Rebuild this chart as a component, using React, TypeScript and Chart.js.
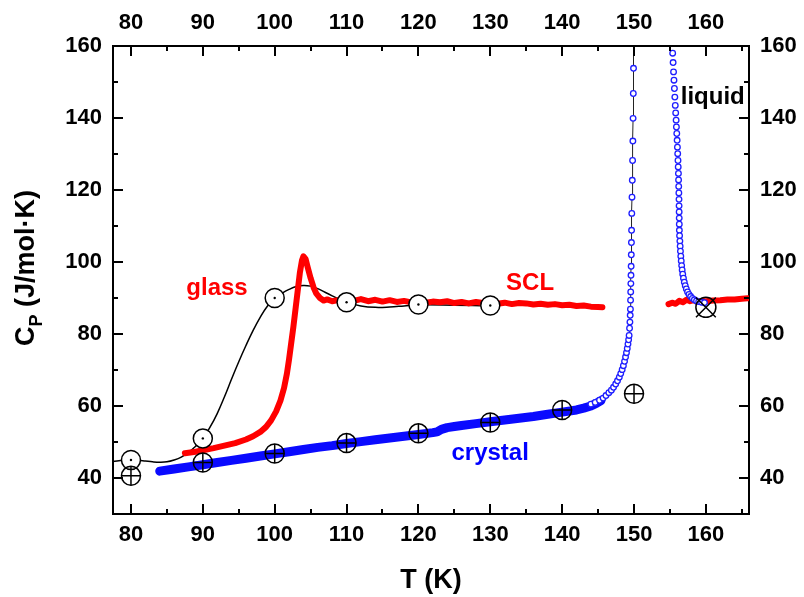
import React, { useEffect, useRef } from 'react';
import { Chart, registerables } from 'chart.js';

Chart.register(...registerables);

const FONT = '"Liberation Sans", Arial, sans-serif';

// axis ticks
const xTickValues = [80, 90, 100, 110, 120, 130, 140, 150, 160];
const xMinorValues = [85, 95, 105, 115, 125, 135, 145, 155, 165];
const yTickValues = [40, 60, 80, 100, 120, 140, 160];
const yMinorValues = [50, 70, 90, 110, 130, 150];
const X_MIN = 77.5;
const X_MAX = 166;
const Y_MIN = 30;
const Y_MAX = 160;

// glass -> SCL (red)
const glassT = [87.5, 89, 90, 91.5, 93, 94.5, 96, 97, 98, 98.8, 99.5, 100.2, 100.8, 101.3, 101.7, 102.0, 102.3, 102.6, 102.9, 103.2, 103.5, 103.8, 104.0, 104.3, 104.6, 105.0, 105.4, 105.8, 106.3, 106.8, 107.3, 108, 108.8, 109.5, 110.2, 111, 112, 113, 114, 115, 116, 117, 118, 119, 120, 121, 122, 123, 124, 125, 126, 127, 128, 129, 130, 131, 132, 133, 134, 135, 136, 137, 138, 139, 140, 141, 142, 143, 144, 145, 145.6];
const glassC = [46.9, 47.3, 47.7, 48.3, 49.0, 49.7, 50.7, 51.6, 52.8, 54.2, 56.0, 58.5, 61.5, 65, 69, 73, 77.5, 82, 87, 92, 97, 100.5, 101.6, 100.8, 98.5, 95.5, 93, 91.2, 90, 89.3, 89.6, 89.1, 89.4, 88.9, 89.5, 89.2, 89.7, 89.1, 89.5, 89.0, 89.4, 88.9, 89.2, 88.8, 89.1, 88.7, 89.0, 88.8, 89.1, 88.6, 88.9, 88.5, 88.9, 88.6, 88.8, 88.4, 88.7, 88.3, 88.6, 88.5, 88.2, 88.4, 88.1, 88.3, 88.0, 88.1, 87.8, 87.9, 87.6, 87.5, 87.4];

// liquid (red, above melting)
const liqRedT = [154.8, 155.3, 155.8, 156.3, 156.8, 157.3, 157.8, 158.3, 158.8, 159.3, 160, 161, 162, 163, 164, 165, 165.8];
const liqRedC = [88.3, 88.7, 88.4, 89.2, 88.8, 89.5, 89.1, 89.4, 88.9, 89.2, 89.1, 89.3, 89.4, 89.6, 89.6, 89.8, 89.9];

// crystal (blue, dense band)
const crystalT = [84, 86, 88, 90, 92, 94, 96, 98, 100, 102, 104, 106, 108, 110, 112, 114, 116, 118, 120, 122, 122.6, 123.2, 124, 125, 126, 128, 130, 132, 134, 136, 138, 140, 142, 143, 144, 144.8, 145.4];
const crystalC = [41.9, 42.5, 43.1, 43.7, 44.3, 44.9, 45.5, 46.1, 46.7, 47.3, 47.9, 48.5, 49.0, 49.6, 50.1, 50.6, 51.1, 51.6, 52.1, 52.6, 52.8, 53.5, 54.0, 54.3, 54.6, 55.1, 55.6, 56.1, 56.6, 57.1, 57.7, 58.3, 58.9, 59.4, 60.0, 60.8, 61.5];

// crystal upturn and melting spike (blue open circles)
const spikeT = [144.0, 144.6, 145.2, 145.7, 146.1, 146.5, 146.85, 147.15, 147.45, 147.7, 147.95, 148.15, 148.35, 148.52, 148.68, 148.82, 148.95, 149.06, 149.16, 149.25, 149.32, 149.38, 149.43, 149.47, 149.5, 149.52, 149.54, 149.56, 149.58, 149.6, 149.62, 149.64, 149.66, 149.69, 149.72, 149.76, 149.8, 149.84, 149.87, 149.9, 149.93, 149.96];
const spikeC = [60.5, 61.0, 61.6, 62.2, 62.9, 63.7, 64.4, 65.2, 66.1, 67.0, 68.0, 69.0, 70.1, 71.2, 72.4, 73.6, 74.8, 76.0, 77.2, 78.4, 79.6, 81.6, 83.3, 85.2, 86.9, 89.4, 91.7, 94.0, 96.3, 98.8, 102.0, 105.4, 108.8, 113.5, 118.0, 122.7, 128.2, 133.6, 139.9, 146.8, 153.8, 161];

// liquid branch (blue open circles)
const liquidT = [155.3, 155.38, 155.44, 155.5, 155.56, 155.62, 155.68, 155.74, 155.8, 155.86, 155.9, 155.95, 156.0, 156.04, 156.08, 156.12, 156.15, 156.18, 156.2, 156.22, 156.24, 156.26, 156.27, 156.28, 156.29, 156.3, 156.31, 156.34, 156.38, 156.42, 156.46, 156.51, 156.57, 156.63, 156.7, 156.78, 156.88, 157.0, 157.13, 157.28, 157.45, 157.65, 157.88, 158.12, 158.4, 158.7, 159.0, 159.4, 159.8];
const liquidC = [161.5, 158, 155.4, 152.8, 150.5, 148.2, 145.8, 143.5, 141.4, 139.4, 137.5, 135.7, 133.8, 131.9, 130.1, 128.2, 126.4, 124.6, 122.8, 121, 119.2, 117.4, 115.6, 113.9, 112.2, 110.5, 108.8, 107.3, 105.8, 104.4, 103, 101.6, 100.3, 99, 97.8, 96.6, 95.5, 94.4, 93.4, 92.5, 91.7, 91.0, 90.4, 89.9, 89.5, 89.2, 89.0, 88.8, 88.7];

// smooth black guide curve
const fitT = [77.5, 79, 80, 81, 82, 83, 84, 85, 86, 87, 88, 89, 90, 91, 92, 93, 94, 95, 96, 97, 98, 99, 100, 101, 102, 103, 104, 105, 106, 107, 108, 109, 110, 112, 114, 116, 118, 120, 125, 130];
const fitC = [44.6, 44.9, 45.0, 44.9, 44.7, 44.5, 44.4, 44.5, 45.0, 45.8, 47.1, 48.8, 51.0, 54.1, 57.9, 62.5, 67.5, 72.3, 76.8, 81.0, 84.7, 87.8, 89.9, 91.3, 92.4, 93.2, 93.5, 93.3, 92.6, 91.6, 90.6, 89.6, 88.8, 87.8, 87.4, 87.5, 87.8, 88.1, 88.0, 87.8];

// reference markers
const dotT = [80, 90, 100, 110, 120, 130];
const dotC = [45.0, 51.0, 90.0, 88.8, 88.2, 87.9];
const plusT = [80, 90, 100, 110, 120, 130, 140, 150];
const plusC = [40.6, 44.3, 46.8, 49.7, 52.4, 55.4, 58.9, 63.4];
const crossT = [160];
const crossC = [87.4];

const pts = (t: number[], c: number[]) => t.map((v, i) => ({ x: v, y: c[i] }));

const annotations = [
  { text: 'glass', t: 87.7, c: 90.8, color: '#ff0000' },
  { text: 'SCL', t: 132.2, c: 92.2, color: '#ff0000' },
  { text: 'crystal', t: 124.6, c: 44.9, color: '#0000ff' },
  { text: 'liquid', t: 156.5, c: 144, color: '#000000' },
];

const decor = {
  id: 'decor',
  afterDatasetsDraw(chart: any) {
    const { ctx, scales } = chart;
    const x = scales.x, y = scales.y;
    ctx.save();
    ctx.font = `bold 24px ${FONT}`;
    ctx.textAlign = 'left';
    ctx.textBaseline = 'alphabetic';
    for (const a of annotations) {
      ctx.fillStyle = a.color;
      ctx.fillText(a.text, x.getPixelForValue(a.t), y.getPixelForValue(a.c));
    }
    ctx.restore();
  },
  afterDraw(chart: any) {
    const { ctx, chartArea: a, scales } = chart;
    const x = scales.x, y = scales.y;
    ctx.save();
    ctx.strokeStyle = '#000';
    ctx.lineWidth = 2;
    const seg = (x1: number, y1: number, x2: number, y2: number) => {
      ctx.beginPath(); ctx.moveTo(x1, y1); ctx.lineTo(x2, y2); ctx.stroke();
    };
    const xs = [...xTickValues.map(v => [v, 10]), ...xMinorValues.map(v => [v, 5])];
    for (const [v, L] of xs) {
      const px = Math.round(x.getPixelForValue(v));
      seg(px, a.bottom, px, a.bottom - L);
      seg(px, a.top, px, a.top + L);
    }
    const ys = [...yTickValues.map(v => [v, 10]), ...yMinorValues.map(v => [v, 5])];
    for (const [v, L] of ys) {
      const py = Math.round(y.getPixelForValue(v));
      seg(a.left, py, a.left + L, py);
      seg(a.right, py, a.right - L, py);
    }
    // axis titles
    ctx.fillStyle = '#000';
    ctx.font = `bold 27px ${FONT}`;
    ctx.textAlign = 'center';
    ctx.textBaseline = 'alphabetic';
    ctx.fillText('T (K)', (a.left + a.right) / 2, 588);

    ctx.translate(34, 268);
    ctx.rotate(-Math.PI / 2);
    ctx.textAlign = 'left';
    const big = `bold 27px ${FONT}`;
    const small = `bold 18px ${FONT}`;
    ctx.font = big;
    const wC = ctx.measureText('C').width;
    const rest = ' (J/mol·K)';
    const wR = ctx.measureText(rest).width;
    ctx.font = small;
    const wP = ctx.measureText('P').width;
    const total = wC + wP + wR;
    let cx = -total / 2;
    ctx.font = big;
    ctx.fillText('C', cx, 0);
    cx += wC;
    ctx.font = small;
    ctx.fillText('P', cx, 8);
    cx += wP;
    ctx.font = big;
    ctx.fillText(rest, cx, 0);
    ctx.restore();
  },
};

const tickFont = { family: FONT, size: 22, weight: 'bold' as const };

function axis(position: string, isX: boolean, pad: number, size: number) {
  return {
    type: 'linear',
    position,
    min: isX ? X_MIN : Y_MIN,
    max: isX ? X_MAX : Y_MAX,
    grid: { display: false, drawTicks: false },
    border: { display: true, color: '#000', width: 2 },
    ticks: { font: tickFont, color: '#000', padding: pad, maxRotation: 0, autoSkip: false },
    afterBuildTicks: (s: any) => {
      s.ticks = (isX ? xTickValues : yTickValues).map(v => ({ value: v }));
    },
    afterFit: (s: any) => {
      if (isX) s.height = size; else s.width = size;
    },
  };
}

export default function App() {
  const ref = useRef<HTMLCanvasElement>(null);
  useEffect(() => {
    const canvas = ref.current!;
    const chart = new Chart(canvas, {
      type: 'scatter',
      data: {
        datasets: [
          { label: 'cross-x', data: pts(crossT, crossC), pointStyle: 'crossRot', pointRadius: 14, pointBorderColor: '#000', pointBorderWidth: 1.5, showLine: false, order: 1 } as any,
          { label: 'cross-o', data: pts(crossT, crossC), pointStyle: 'circle', pointRadius: 10, pointBorderColor: '#000', pointBackgroundColor: 'rgba(0,0,0,0)', pointBorderWidth: 1.5, showLine: false, order: 2 },
          { label: 'plus-x', data: pts(plusT, plusC), pointStyle: 'cross', pointRadius: 9.5, pointBorderColor: '#000', pointBorderWidth: 1.5, showLine: false, order: 3 },
          { label: 'plus-o', data: pts(plusT, plusC), pointStyle: 'circle', pointRadius: 9.5, pointBorderColor: '#000', pointBackgroundColor: 'rgba(0,0,0,0)', pointBorderWidth: 1.5, showLine: false, order: 4 },
          { label: 'dot-c', data: pts(dotT, dotC), pointStyle: 'circle', pointRadius: 1.2, pointBorderWidth: 0, pointBackgroundColor: '#000', showLine: false, order: 5 },
          { label: 'dot-o', data: pts(dotT, dotC), pointStyle: 'circle', pointRadius: 9.5, pointBorderColor: '#000', pointBackgroundColor: '#fff', pointBorderWidth: 1.5, showLine: false, order: 6 },
          { label: 'spike', data: pts(spikeT, spikeC), showLine: true, borderColor: '#222', borderWidth: 1, pointStyle: 'circle', pointRadius: 2.8, pointBorderColor: '#1e1eff', pointBackgroundColor: '#fff', pointBorderWidth: 1.3, order: 7 },
          { label: 'liquid', data: pts(liquidT, liquidC), showLine: false, pointStyle: 'circle', pointRadius: 2.8, pointBorderColor: '#1e1eff', pointBackgroundColor: '#fff', pointBorderWidth: 1.3, order: 8 },
          { label: 'crystal', data: pts(crystalT, crystalC), showLine: true, borderColor: '#0a0aff', borderWidth: 9, borderCapStyle: 'round', borderJoinStyle: 'round', pointRadius: 0, order: 9 },
          { label: 'liqRed', data: pts(liqRedT, liqRedC), showLine: true, borderColor: '#ff0000', borderWidth: 6, borderCapStyle: 'round', borderJoinStyle: 'round', pointRadius: 0, order: 10 },
          { label: 'glass', data: pts(glassT, glassC), showLine: true, borderColor: '#ff0000', borderWidth: 6, borderCapStyle: 'round', borderJoinStyle: 'round', pointRadius: 0, order: 11 },
          { label: 'fit', data: pts(fitT, fitC), showLine: true, borderColor: '#000', borderWidth: 1.5, tension: 0.4, pointRadius: 0, order: 12 },
        ],
      },
      options: {
        responsive: false,
        animation: false,
        devicePixelRatio: 1,
        layout: { padding: 0 },
        plugins: { legend: { display: false }, tooltip: { enabled: false } },
        scales: {
          x: axis('bottom', true, 8, 83),
          x2: axis('top', true, 10, 46),
          y: axis('left', false, 11, 113),
          y2: axis('right', false, 11, 55),
        } as any,
      },
      plugins: [decor],
    });
    return () => chart.destroy();
  }, []);
  return (
    <div style={{ position: 'absolute', left: 0, top: 0, width: 804, height: 597, background: '#fff' }}>
      <canvas ref={ref} width={804} height={597} style={{ display: 'block', width: 804, height: 597 }} />
    </div>
  );
}
